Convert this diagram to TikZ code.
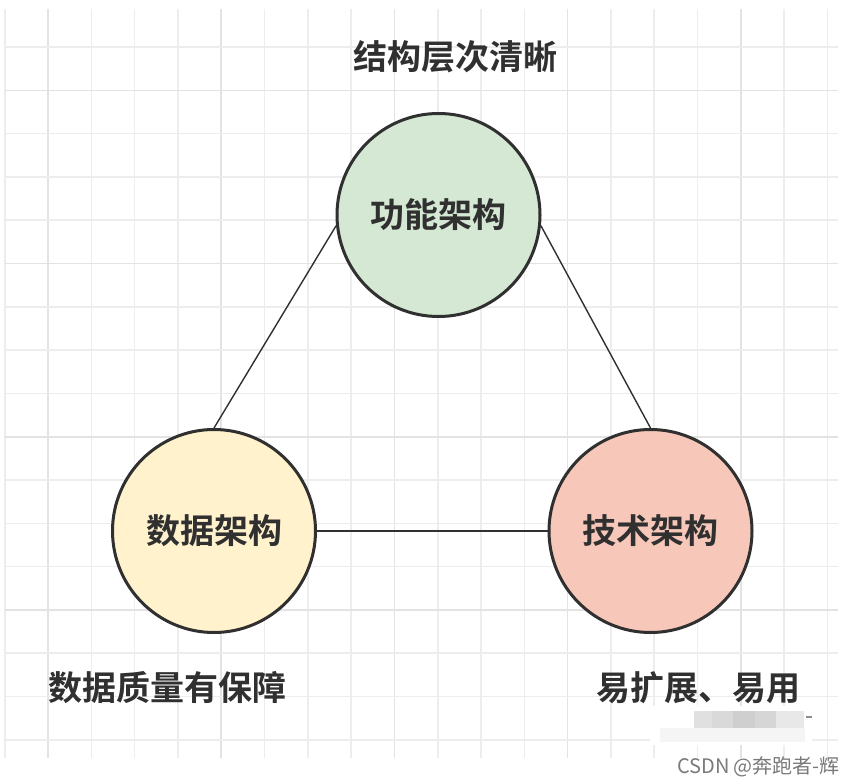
\documentclass[tikz,border=0pt]{standalone}
\usepackage{fontspec}
\newfontfamily\cjk{Noto Sans CJK SC}
\newfontfamily\cjkb{Noto Sans CJK SC Bold}
\definecolor{gridminor}{HTML}{EDEDED}
\definecolor{gridmajor}{HTML}{E3E3E3}
\definecolor{ink}{HTML}{303030}
\definecolor{funfill}{HTML}{D5E8D4}
\definecolor{datafill}{HTML}{FFF2CC}
\definecolor{techfill}{HTML}{F7C8B9}
\tikzset{
  archnode/.style={circle, draw=ink, line width=3pt, minimum size=203pt, inner sep=0pt,
    font=\cjkb\fontsize{34}{34}\selectfont, text=ink},
  notetext/.style={font=\cjkb\fontsize{34}{34}\selectfont, text=ink, inner sep=0pt},
  link/.style={draw=ink, line width=1.4pt}
}
\begin{document}
\begin{tikzpicture}[x=1pt,y=-1pt]
\useasboundingbox (0,0) rectangle (854,784);
\fill[white] (0,0) rectangle (854,784);
\foreach \k in {0,...,19} {
  \pgfmathsetmacro{\gx}{4.7+43.3*\k}
  \pgfmathtruncatemacro{\major}{mod(\k,4)==1}
  \ifnum\major=1 \draw[gridmajor, line width=1.6pt] (\gx,9) -- (\gx,758);
  \else \draw[gridminor, line width=1.6pt] (\gx,9) -- (\gx,758); \fi
}
\foreach \k in {1,...,17} {
  \pgfmathsetmacro{\gy}{3.7+43.3*\k}
  \pgfmathtruncatemacro{\major}{mod(\k,4)==2}
  \ifnum\major=1 \draw[gridmajor, line width=1.6pt] (5,\gy) -- (838,\gy);
  \else \draw[gridminor, line width=1.6pt] (5,\gy) -- (838,\gy); \fi
}
\node[archnode, fill=funfill] (fun) at (438.5,215) {功能架构};
\node[archnode, fill=datafill] (data) at (214,531) {数据架构};
\node[archnode, fill=techfill] (tech) at (650.5,531) {技术架构};
\draw[link] (fun.186) -- (data.north);
\draw[link] (fun.354) -- (tech.north);
\draw[link] (data.east) -- (tech.west);
\node[notetext] (clear) at (455,57) {结构层次清晰};
\node[notetext] (quality) at (167,688) {数据质量有保障};
\node[notetext] (easy) at (698,688) {易扩展、易用};
% blurred patch
\fill[white] (650,706) rectangle (812,745);
\fill[black!12] (694,711) rectangle (712,728);
\fill[black!15] (712,711) rectangle (733,728);
\fill[black!19] (733,711) rectangle (755,728);
\fill[black!16] (755,711) rectangle (776,728);
\fill[black!9] (776,711) rectangle (804,728);
\fill[black!4] (660,728) rectangle (805,742);
\fill[black!45] (806,716) rectangle (812,718);
\node[font=\cjk\fontsize{20}{20}\selectfont, text=black!52, anchor=east, inner sep=0pt] (mark) at (840,767) {CSDN @奔跑者-辉};
\end{tikzpicture}
\end{document}
